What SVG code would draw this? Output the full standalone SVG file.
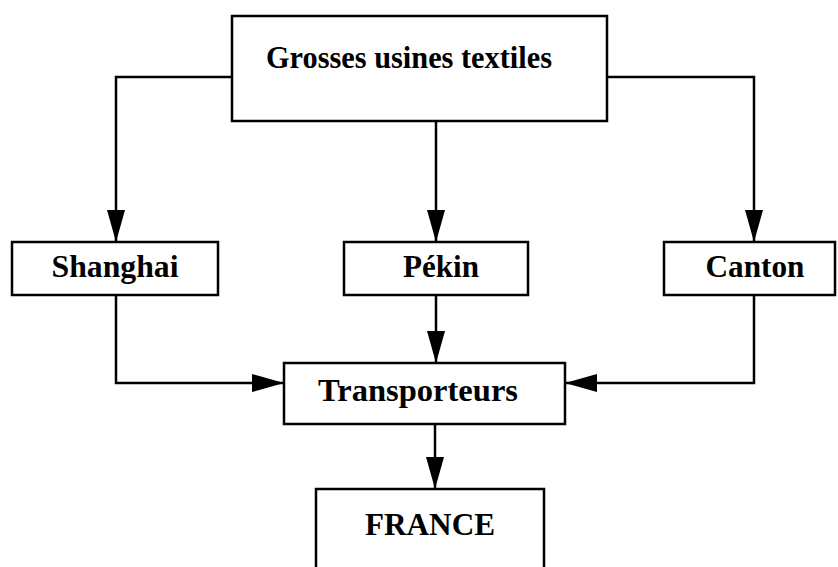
<svg xmlns="http://www.w3.org/2000/svg" width="838" height="567" viewBox="0 0 838 567">
<style>
.box{fill:#fff;stroke:#000;stroke-width:2.5}
.lbl{font-family:"Liberation Serif","Times New Roman",serif;font-weight:bold;font-size:32px;fill:#000;text-anchor:middle}
.conn{fill:none;stroke:#000;stroke-width:2.5}
</style>
<defs>
<marker id="arr" viewBox="0 0 32 18" refX="32" refY="9" markerWidth="32" markerHeight="18" markerUnits="userSpaceOnUse" orient="auto">
<path d="M0,0 L32,9 L0,18 Z" fill="#000"/>
</marker>
</defs>
<g id="connectors">
<path class="conn" d="M232,77 H116 V242" marker-end="url(#arr)"/>
<path class="conn" d="M436,121 V242" marker-end="url(#arr)"/>
<path class="conn" d="M607,77 H754 V242" marker-end="url(#arr)"/>
<path class="conn" d="M116,295 V383 H284" marker-end="url(#arr)"/>
<path class="conn" d="M436,295 V363" marker-end="url(#arr)"/>
<path class="conn" d="M754,295 V383 H565" marker-end="url(#arr)"/>
<path class="conn" d="M435,424 V489" marker-end="url(#arr)"/>
</g>
<g id="usines">
<rect class="box" x="232" y="16" width="375" height="105"/>
<text class="lbl" x="409" y="68" textLength="286" lengthAdjust="spacingAndGlyphs">Grosses usines textiles</text>
</g>
<g id="shanghai">
<rect class="box" x="12" y="242" width="206" height="53"/>
<text class="lbl" x="115" y="277" textLength="127" lengthAdjust="spacingAndGlyphs">Shanghai</text>
</g>
<g id="pekin">
<rect class="box" x="344" y="242" width="184" height="53"/>
<text class="lbl" x="441" y="277" textLength="76" lengthAdjust="spacingAndGlyphs">Pékin</text>
</g>
<g id="canton">
<rect class="box" x="664" y="242" width="171" height="53"/>
<text class="lbl" x="755" y="277" textLength="99" lengthAdjust="spacingAndGlyphs">Canton</text>
</g>
<g id="transporteurs">
<rect class="box" x="284" y="363" width="281" height="61"/>
<text class="lbl" x="418" y="401" textLength="200" lengthAdjust="spacingAndGlyphs">Transporteurs</text>
</g>
<g id="france">
<rect class="box" x="316" y="489" width="228" height="90"/>
<text class="lbl" x="430" y="535" textLength="130" lengthAdjust="spacingAndGlyphs">FRANCE</text>
</g>
</svg>
